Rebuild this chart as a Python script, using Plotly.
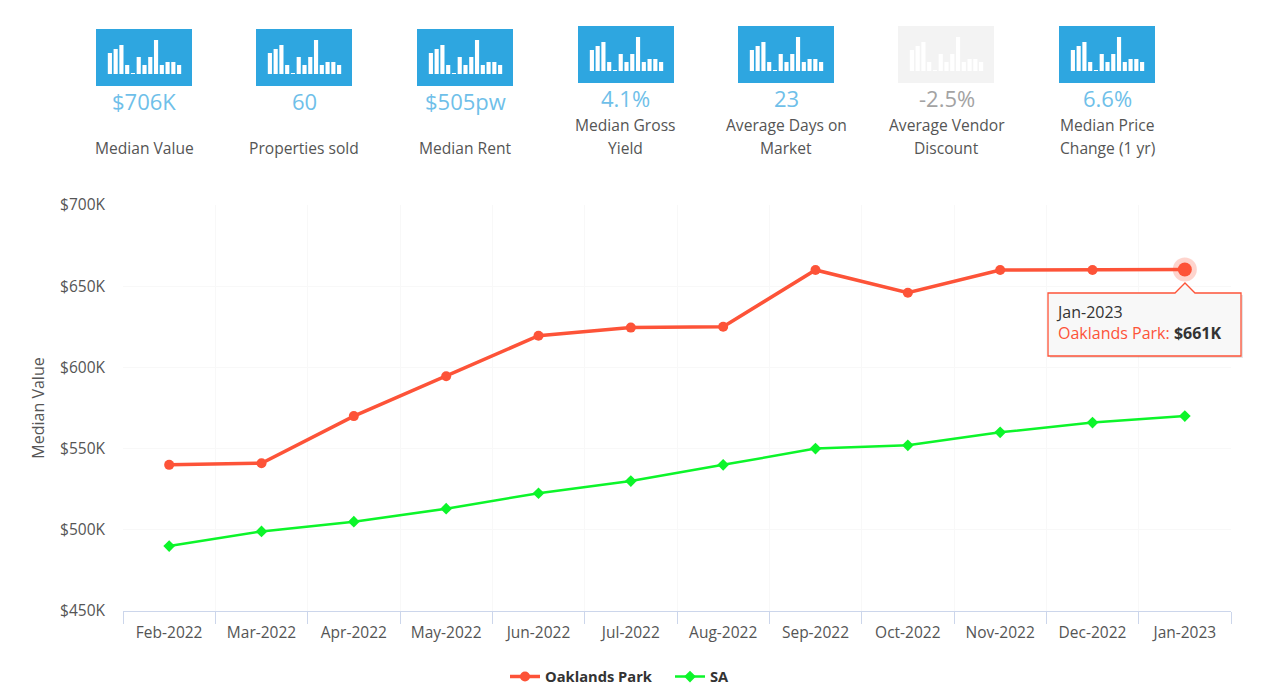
import plotly.graph_objects as go

W, H = 1276, 700

months = ["Feb-2022", "Mar-2022", "Apr-2022", "May-2022", "Jun-2022", "Jul-2022",
          "Aug-2022", "Sep-2022", "Oct-2022", "Nov-2022", "Dec-2022", "Jan-2023"]
oaklands_park = [540, 541, 570, 594.5, 619.5, 624.5, 625, 660, 646, 660, 660, 660.3]
sa = [490, 499, 505, 513, 522.5, 530, 540, 550, 552, 560, 566, 570]

y_ticks = [450, 500, 550, 600, 650, 700]
y_labels = ["$450K", "$500K", "$550K", "$600K", "$650K", "$700K"]

kpi_values = ["$706K", "60", "$505pw", "4.1%", "23", "-2.5%", "6.6%"]
kpi_labels = [["Median Value"], ["Properties sold"], ["Median Rent"], ["Median Gross", "Yield"],
              ["Average Days on", "Market"], ["Average Vendor", "Discount"], ["Median Price", "Change (1 yr)"]]
icon_bars = [21, 25, 29, 9, 1, 17, 9, 17, 34, 9, 12, 12, 9]

kpi_cx = [144, 304, 465, 625.5, 786, 946.5, 1107]
kpi_top = [29, 29, 29, 26, 26, 26, 26]
kpi_left = [96, 256, 417, 578, 738, 898, 1059]
kpi_enabled = [True, True, True, True, True, False, True]

RED = "#fd5338"
GREEN = "#0cf52a"
BLUE = "#2ea6e0"
LIGHT = "#6fbfe9"

def px(x):
    return x / W

def py(y):
    return 1 - y / H

fig = go.Figure()

fig.add_trace(go.Scatter(x=months, y=oaklands_park, name="Oaklands Park", mode="lines+markers",
                         line=dict(color=RED, width=3.5), marker=dict(color=RED, size=10, symbol="circle"),
                         cliponaxis=False))
fig.add_trace(go.Scatter(x=months, y=sa, name="SA", mode="lines+markers",
                         line=dict(color=GREEN, width=2.5), marker=dict(color=GREEN, size=9, symbol="diamond"),
                         cliponaxis=False))
fig.add_trace(go.Scatter(x=months[-1:], y=oaklands_park[-1:], mode="markers", showlegend=False, hoverinfo="skip",
                         marker=dict(color=RED, size=24, opacity=0.25), cliponaxis=False))
fig.add_trace(go.Scatter(x=months[-1:], y=oaklands_park[-1:], mode="markers", showlegend=False, hoverinfo="skip",
                         marker=dict(color=RED, size=14), cliponaxis=False))

shapes = []
annotations = []
layout_axes = {}
for i in range(7):
    top = kpi_top[i]
    left = kpi_left[i]
    shapes.append(dict(type="rect", xref="paper", yref="paper", layer="below",
                       x0=px(left), x1=px(left + 96), y0=py(top), y1=py(top + 57), line_width=0,
                       fillcolor=BLUE if kpi_enabled[i] else "#f3f3f3"))
    n = i + 2
    layout_axes[f"xaxis{n}"] = dict(domain=[px(left + 11), px(left + 86)], visible=False, fixedrange=True,
                                    anchor=f"y{n}", range=[-0.5, 12.5])
    layout_axes[f"yaxis{n}"] = dict(domain=[py(top + 45), py(top + 11)], visible=False, fixedrange=True,
                                    anchor=f"x{n}", range=[0, 34])
    fig.add_trace(go.Bar(x=list(range(len(icon_bars))), y=icon_bars, xaxis=f"x{n}", yaxis=f"y{n}",
                         marker=dict(color="#ffffff", line_width=0), showlegend=False, hoverinfo="skip", width=0.72))
    annotations.append(dict(text=kpi_values[i], xref="paper", yref="paper", x=px(kpi_cx[i]), y=py(top + 72),
                            showarrow=False, xanchor="center", yanchor="middle",
                            font=dict(family="Open Sans", size=22, color=LIGHT if kpi_enabled[i] else "#a3a3a3")))
    lines = kpi_labels[i]
    rows = [148] if len(lines) == 1 else [125, 148]
    for line, row in zip(lines, rows):
        annotations.append(dict(text=line, xref="paper", yref="paper", x=px(kpi_cx[i]), y=py(row),
                                showarrow=False, xanchor="center", yanchor="middle",
                                font=dict(family="Open Sans", size=15.6, color="#555555")))

# tooltip
BX0, BX1, BY0, BY1 = 1048, 1241, 293, 356
TIP = 1185
def box_path(dx, dy):
    pts = [(BX0, BY0), (TIP - 10, BY0), (TIP, BY0 - 10), (TIP + 10, BY0), (BX1, BY0), (BX1, BY1), (BX0, BY1)]
    return "M " + " L ".join(f"{px(a + dx):.5f} {py(b + dy):.5f}" for a, b in pts) + " Z"

shapes.append(dict(type="path", xref="paper", yref="paper", layer="above", path=box_path(2, 2),
                   fillcolor="rgba(0,0,0,0.10)", line_width=0))
shapes.append(dict(type="path", xref="paper", yref="paper", layer="above", path=box_path(0, 0),
                   fillcolor="#f8f8f8", line=dict(color=RED, width=1.3)))
annotations.append(dict(text=f"{months[-1]}<br><span style='color:{RED}'>Oaklands Park:</span> <b>$661K</b>",
                        xref="paper", yref="paper", x=px(1054), y=py(322), showarrow=False, xanchor="left",
                        yanchor="middle", align="left", font=dict(family="Open Sans", size=16, color="#333333")))

fig.update_layout(
    width=W, height=H, margin=dict(l=0, r=0, t=0, b=0, pad=0, autoexpand=False), autosize=False,
    paper_bgcolor="#ffffff", plot_bgcolor="#ffffff", showlegend=True, bargap=0.3, hovermode=False,
    xaxis=dict(domain=[px(123), px(1231)], type="category", categoryorder="array", categoryarray=months,
               range=[-0.5, 11.5], tickson="boundaries", ticks="outside", ticklen=12, tickcolor="#ccd6eb", tickwidth=1,
               showline=True, linecolor="#ccd6eb", linewidth=1, showgrid=True, gridcolor="#f8f8f8", zeroline=False,
               ticklabelstandoff=7,
               tickfont=dict(family="Open Sans", size=15.5, color="#555555"), fixedrange=True, anchor="y"),
    yaxis=dict(domain=[py(611), py(205)], range=[450, 700], tickvals=y_ticks, ticktext=y_labels,
               showgrid=True, gridcolor="#f8f8f8", zeroline=False, showline=False, ticks="", ticklabelstandoff=17,
               tickfont=dict(family="Open Sans", size=15.5, color="#555555"), fixedrange=True, anchor="x",
               title=dict(text="Median Value", standoff=11, font=dict(family="Open Sans", size=16, color="#555555"))),
    legend=dict(orientation="h", xanchor="center", yanchor="middle", x=px(670), y=py(677),
                entrywidth=120, entrywidthmode="pixels",
                font=dict(family="Open Sans", size=14.7, color="#333333", weight="bold"),
                bgcolor="rgba(0,0,0,0)", itemclick=False, itemdoubleclick=False),
    shapes=shapes, annotations=annotations, **layout_axes,
)

fig.write_html("out.html", config=dict(displayModeBar=False),
               post_script="document.body.style.margin='0';document.body.style.overflow='hidden';")
